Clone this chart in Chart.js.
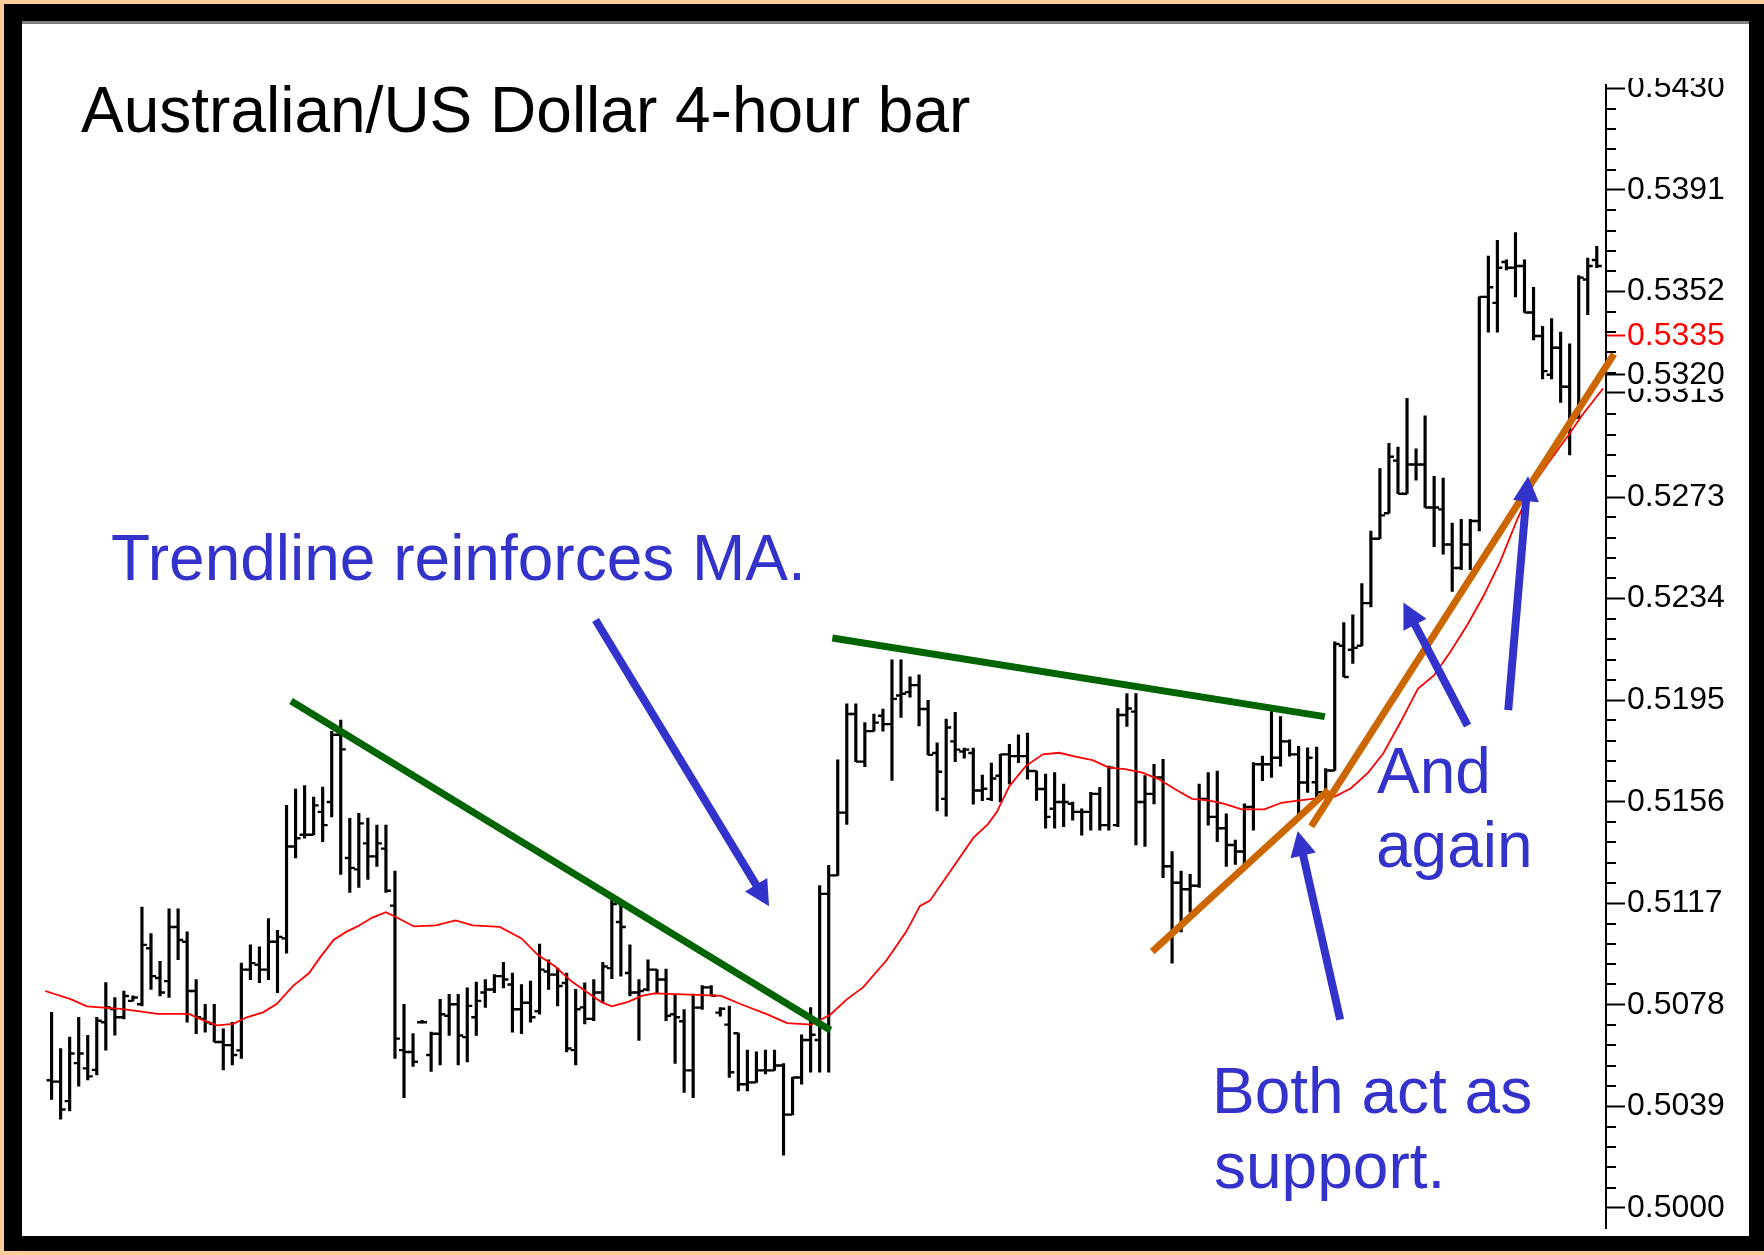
<!DOCTYPE html>
<html>
<head>
<meta charset="utf-8">
<script src="https://cdn.jsdelivr.net/npm/chart.js"></script>
<style>
  html, body { margin: 0; padding: 0; }
  body { width: 1764px; height: 1255px; background: #ffcc99; position: relative; overflow: hidden; }
  .abs { position: absolute; }
  #frame { left: 4px; top: 4px; width: 1760px; height: 1247px; background: #000; }
  #rule { left: 22px; top: 21px; width: 1727px; height: 3px; background: #808080; }
  #paper { left: 22px; top: 24px; width: 1727px; height: 1212px; background: #fff; }
  #wrap { left: 22px; top: 78px; width: 1727px; height: 1158px; }
  .txt { position: absolute; font-family: "Liberation Sans", Arial, sans-serif; font-size: 64px; line-height: 64px; white-space: nowrap; z-index: 5; }
  .blue { color: #3333cc; }
</style>
</head>
<body>
<div id="frame" class="abs"></div>
<div id="rule" class="abs"></div>
<div id="paper" class="abs"></div>
<div id="wrap" class="abs"><canvas id="chart"></canvas></div>

<div class="txt" style="left:81px; top:78px; color:#000;">Australian/US Dollar 4-hour bar</div>
<div class="txt blue" style="left:111px; top:526px;">Trendline reinforces MA.</div>
<div class="txt blue" style="left:1377px; top:739px;">And</div>
<div class="txt blue" style="left:1376px; top:813px;">again</div>
<div class="txt blue" style="left:1212px; top:1059px;">Both act as</div>
<div class="txt blue" style="left:1214px; top:1134px;">support.</div>

<script>
// 4-hour AUD/USD bars, one entry per bar
const highs = [
  0.50751, 0.50612, 0.50656, 0.50732, 0.50663, 0.50732, 0.50865, 0.50808, 0.50833, 0.50814,
  0.51155, 0.51054, 0.50947, 0.51149, 0.51149, 0.51060, 0.50877, 0.50782, 0.50782, 0.50688,
  0.50713, 0.50940, 0.51010, 0.51003, 0.51111, 0.51066, 0.51546, 0.51609, 0.51622, 0.51578,
  0.51616, 0.51830, 0.51874, 0.51496, 0.51515, 0.51497, 0.51470, 0.51470, 0.51294, 0.50782,
  0.50669, 0.50720, 0.50675, 0.50801, 0.50820, 0.50820, 0.50845, 0.50867, 0.50877, 0.50896,
  0.50943, 0.50902, 0.50858, 0.50871, 0.51013, 0.50953, 0.50921, 0.50902, 0.50839, 0.50864,
  0.50877, 0.50943, 0.51186, 0.51167, 0.51010, 0.50877, 0.50953, 0.50915, 0.50917, 0.50820,
  0.50762, 0.50821, 0.50854, 0.50854, 0.50769, 0.50775, 0.50671, 0.50606, 0.50599, 0.50606,
  0.50606, 0.50554, 0.50501, 0.50665, 0.50769, 0.51238, 0.51316, 0.51721, 0.51936, 0.51936,
  0.51864, 0.51897, 0.51916, 0.52105, 0.52105, 0.52040, 0.52047, 0.51949, 0.51786, 0.51877,
  0.51903, 0.51766, 0.51766, 0.51662, 0.51708, 0.51742, 0.51780, 0.51817, 0.51824, 0.51678,
  0.51666, 0.51672, 0.51628, 0.51559, 0.51533, 0.51596, 0.51615, 0.51697, 0.51918, 0.51975,
  0.51975, 0.51660, 0.51704, 0.51723, 0.51369, 0.51294, 0.51281, 0.51628, 0.51672, 0.51678,
  0.51514, 0.51413, 0.51552, 0.51710, 0.51735, 0.51906, 0.51887, 0.51798, 0.51773, 0.51767,
  0.51770, 0.51687, 0.52174, 0.52248, 0.52278, 0.52398, 0.52600, 0.52840, 0.52937, 0.52922,
  0.53109, 0.52915, 0.53042, 0.52810, 0.52803, 0.52630, 0.52645, 0.52645, 0.53499, 0.53656,
  0.53716, 0.53641, 0.53746, 0.53641, 0.53536, 0.53386, 0.53416, 0.53364, 0.53319, 0.53581,
  0.53648, 0.53693
];
const lows = [
  0.50417, 0.50341, 0.50372, 0.50467, 0.50491, 0.50511, 0.50606, 0.50663, 0.50726, 0.50795,
  0.50776, 0.50839, 0.50814, 0.50808, 0.50953, 0.50713, 0.50669, 0.50675, 0.50637, 0.50530,
  0.50549, 0.50574, 0.50877, 0.50865, 0.50877, 0.50827, 0.50978, 0.51344, 0.51420, 0.51433,
  0.51407, 0.51502, 0.51281, 0.51212, 0.51231, 0.51262, 0.51312, 0.51212, 0.50574, 0.50423,
  0.50543, 0.50710, 0.50524, 0.50549, 0.50662, 0.50549, 0.50561, 0.50662, 0.50770, 0.50827,
  0.50845, 0.50675, 0.50669, 0.50713, 0.50744, 0.50839, 0.50776, 0.50599, 0.50549, 0.50707,
  0.50719, 0.50788, 0.50880, 0.50890, 0.50814, 0.50643, 0.50833, 0.50827, 0.50719, 0.50555,
  0.50443, 0.50423, 0.50762, 0.50815, 0.50736, 0.50501, 0.50449, 0.50449, 0.50482, 0.50515,
  0.50528, 0.50202, 0.50358, 0.50475, 0.50521, 0.50521, 0.50521, 0.51277, 0.51473, 0.51714,
  0.51695, 0.51831, 0.51831, 0.51642, 0.51884, 0.51962, 0.51851, 0.51740, 0.51525, 0.51505,
  0.51714, 0.51727, 0.51551, 0.51564, 0.51564, 0.51559, 0.51628, 0.51710, 0.51647, 0.51565,
  0.51458, 0.51458, 0.51464, 0.51489, 0.51432, 0.51451, 0.51451, 0.51451, 0.51464, 0.51849,
  0.51394, 0.51388, 0.51552, 0.51268, 0.50940, 0.51060, 0.51136, 0.51231, 0.51470, 0.51407,
  0.51312, 0.51319, 0.51319, 0.51451, 0.51641, 0.51653, 0.51697, 0.51735, 0.51508, 0.51596,
  0.51567, 0.51597, 0.51680, 0.52039, 0.52091, 0.52159, 0.52308, 0.52570, 0.52668, 0.52743,
  0.52743, 0.52795, 0.52690, 0.52540, 0.52511, 0.52368, 0.52451, 0.52451, 0.52600, 0.53364,
  0.53364, 0.53603, 0.53499, 0.53439, 0.53334, 0.53184, 0.53184, 0.53094, 0.52892, 0.53035,
  0.53431, 0.53611
];
const opens = [
  0.50490, 0.50485, 0.50410, 0.50556, 0.50536, 0.50530, 0.50713, 0.50764, 0.50732, 0.50795,
  0.50782, 0.50997, 0.50883, 0.50871, 0.51079, 0.51022, 0.50833, 0.50726, 0.50707, 0.50637,
  0.50625, 0.50605, 0.50915, 0.50934, 0.50915, 0.51022, 0.51035, 0.51388, 0.51433, 0.51433,
  0.51521, 0.51559, 0.51817, 0.51344, 0.51300, 0.51400, 0.51350, 0.51380, 0.51161, 0.50606,
  0.50599, 0.50713, 0.50587, 0.50669, 0.50738, 0.50782, 0.50656, 0.50732, 0.50827, 0.50839,
  0.50890, 0.50858, 0.50763, 0.50788, 0.50755, 0.50908, 0.50896, 0.50864, 0.50606, 0.50770,
  0.50726, 0.50827, 0.50921, 0.51098, 0.50902, 0.50827, 0.50839, 0.50915, 0.50877, 0.50744,
  0.50717, 0.50528, 0.50769, 0.50847, 0.50750, 0.50704, 0.50671, 0.50475, 0.50482, 0.50528,
  0.50528, 0.50547, 0.50358, 0.50501, 0.50645, 0.50645, 0.51206, 0.51277, 0.51518, 0.51897,
  0.51714, 0.51831, 0.51890, 0.51858, 0.51968, 0.51981, 0.52008, 0.51916, 0.51747, 0.51571,
  0.51792, 0.51753, 0.51747, 0.51603, 0.51571, 0.51660, 0.51742, 0.51735, 0.51735, 0.51678,
  0.51609, 0.51533, 0.51559, 0.51552, 0.51521, 0.51521, 0.51590, 0.51470, 0.51470, 0.51893,
  0.51906, 0.51559, 0.51590, 0.51653, 0.51312, 0.51249, 0.51224, 0.51237, 0.51571, 0.51502,
  0.51458, 0.51394, 0.51369, 0.51540, 0.51704, 0.51704, 0.51729, 0.51792, 0.51742, 0.51634,
  0.51635, 0.51597, 0.51680, 0.52159, 0.52144, 0.52159, 0.52323, 0.52570, 0.52668, 0.52870,
  0.52743, 0.52855, 0.52855, 0.52690, 0.52683, 0.52548, 0.52458, 0.52548, 0.52638, 0.53499,
  0.53476, 0.53633, 0.53611, 0.53618, 0.53439, 0.53349, 0.53200, 0.53304, 0.53154, 0.53035,
  0.53566, 0.53641
];
const closes = [
  0.50485, 0.50378, 0.50593, 0.50593, 0.50505, 0.50719, 0.50770, 0.50732, 0.50814, 0.50808,
  0.51010, 0.50890, 0.50827, 0.51079, 0.51029, 0.50833, 0.50732, 0.50713, 0.50637, 0.50625,
  0.50587, 0.50915, 0.50940, 0.50915, 0.51022, 0.51041, 0.51388, 0.51420, 0.51433, 0.51546,
  0.51470, 0.51817, 0.51761, 0.51306, 0.51477, 0.51350, 0.51400, 0.51218, 0.50650, 0.50599,
  0.50561, 0.50713, 0.50669, 0.50744, 0.50782, 0.50662, 0.50776, 0.50795, 0.50839, 0.50890,
  0.50877, 0.50763, 0.50788, 0.50732, 0.50915, 0.50896, 0.50852, 0.50612, 0.50763, 0.50726,
  0.50827, 0.50927, 0.51167, 0.51079, 0.50827, 0.50833, 0.50915, 0.50877, 0.50738, 0.50732,
  0.50528, 0.50769, 0.50847, 0.50815, 0.50765, 0.50521, 0.50475, 0.50482, 0.50528, 0.50528,
  0.50547, 0.50358, 0.50501, 0.50645, 0.50665, 0.51206, 0.51277, 0.51518, 0.51897, 0.51714,
  0.51831, 0.51864, 0.51858, 0.51955, 0.51975, 0.52008, 0.51916, 0.51740, 0.51675, 0.51845,
  0.51760, 0.51760, 0.51603, 0.51610, 0.51649, 0.51742, 0.51735, 0.51735, 0.51678, 0.51609,
  0.51502, 0.51559, 0.51559, 0.51521, 0.51521, 0.51590, 0.51470, 0.51691, 0.51893, 0.51918,
  0.51559, 0.51590, 0.51653, 0.51312, 0.51249, 0.51224, 0.51237, 0.51571, 0.51502, 0.51458,
  0.51394, 0.51369, 0.51540, 0.51704, 0.51704, 0.51729, 0.51792, 0.51742, 0.51634, 0.51729,
  0.51597, 0.51680, 0.52166, 0.52039, 0.52151, 0.52323, 0.52570, 0.52660, 0.52885, 0.52743,
  0.52855, 0.52855, 0.52690, 0.52690, 0.52548, 0.52458, 0.52548, 0.52638, 0.53499, 0.53536,
  0.53611, 0.53611, 0.53618, 0.53439, 0.53349, 0.53214, 0.53304, 0.53154, 0.53035, 0.53573,
  0.53618, 0.53618
];

// moving average (bar position, value)
const maIndex = [
  -0.7, 2.1, 3.9, 7.6, 9.4, 11.7, 15.2, 16.4, 18.3, 20.1,
  21.6, 23.4, 24.9, 26.7, 28.5, 29.8, 31.2, 32.6, 33.9, 35.5,
  37, 38.1, 40.1, 42.5, 44.7, 46.6, 49.6, 52, 53.8, 55.7,
  57.5, 59.3, 60.9, 62, 63.8, 65.3, 66.7, 69, 71.5, 74.1,
  76.3, 79.2, 81.4, 84.1, 86.2, 88, 89.8, 92.4, 94.6, 96.1,
  97.2, 99.4, 102, 103.6, 104.6, 106, 107.8, 109.7, 111.5, 113.3,
  115.2, 117, 118.8, 120.7, 122.5, 124.3, 126.2, 128, 129.8, 131.7,
  134.2, 136.1, 138.3, 140.3, 142, 143.8, 145.7, 147.4, 149.3, 151.2,
  153, 154.8, 156.7, 158.5, 160.3, 162.2, 164, 165.8, 167.7, 169.5,
  171.7
];
const maValues = [
  0.50833, 0.50802, 0.50774, 0.50764, 0.50757, 0.50745, 0.50745, 0.50726, 0.50701, 0.50707,
  0.50732, 0.50751, 0.50783, 0.50852, 0.50902, 0.50966, 0.51029, 0.51060, 0.51082, 0.51115,
  0.51136, 0.51117, 0.51081, 0.51085, 0.51104, 0.51085, 0.51079, 0.51035, 0.50972, 0.50928,
  0.50871, 0.50827, 0.50789, 0.50774, 0.50791, 0.50814, 0.50824, 0.50821, 0.50818, 0.50814,
  0.50782, 0.50743, 0.50710, 0.50704, 0.50743, 0.50801, 0.50847, 0.50951, 0.51062, 0.51160,
  0.51180, 0.51290, 0.51421, 0.51473, 0.51520, 0.51620, 0.51697, 0.51742, 0.51748, 0.51733,
  0.51720, 0.51691, 0.51685, 0.51672, 0.51647, 0.51609, 0.51571, 0.51565, 0.51552, 0.51531,
  0.51531, 0.51556, 0.51566, 0.51574, 0.51580, 0.51612, 0.51672, 0.51747, 0.51867, 0.51994,
  0.52046, 0.52136, 0.52241, 0.52353, 0.52481, 0.52645, 0.52780, 0.52870, 0.52960, 0.53050,
  0.53147
];

// price axis labels, plus the two marker labels on the right edge
const yTicks = [0.5000, 0.5039, 0.5078, 0.5117, 0.5156, 0.5195, 0.5234, 0.5273, 0.5313, 0.5352, 0.5391, 0.5430];
const maMarker = 0.5335;
const lastMarker = 0.5320;

// drawn trendlines: [barFrom, priceFrom, barTo, priceTo]
const greenLines = [
  [26.5, 0.51947, 86.2, 0.50682],
  [86.4, 0.52189, 140.9, 0.51887]
];
const orangeLines = [
  [121.8, 0.50984, 141.3, 0.51605],
  [139.4, 0.51465, 172.9, 0.53279]
];
// arrows: [tailBar, tailPrice, tipBar, tipPrice]
const arrows = [
  [60.2, 0.52258, 79.4, 0.51159],
  [142.6, 0.50723, 137.9, 0.51448],
  [156.7, 0.51852, 149.6, 0.52325],
  [161.2, 0.51912, 163.4, 0.52810]
];

const segs = (list, color) => list.map(s => ({
  type: 'line',
  data: [{x: s[0], y: s[1]}, {x: s[2], y: s[3]}],
  borderColor: color, borderWidth: 7, borderCapStyle: 'butt',
  pointRadius: 0, clip: false, order: 1
}));

const overlay = {
  id: 'overlay',
  afterDatasetsDraw(chart) {
    const {ctx, chartArea, scales} = chart;
    const x = scales.x, y = scales.y;
    ctx.save();
    // short ticks between labels
    ctx.strokeStyle = '#000';
    ctx.lineWidth = 2;
    for (let k = 0; k < yTicks.length - 1; k++) {
      for (let j = 1; j < 5; j++) {
        const v = yTicks[k] + (yTicks[k + 1] - yTicks[k]) * j / 5;
        const py = Math.round(y.getPixelForValue(v));
        ctx.beginPath();
        ctx.moveTo(chartArea.right, py);
        ctx.lineTo(chartArea.right + 10, py);
        ctx.stroke();
      }
    }
    // blue arrows
    ctx.strokeStyle = '#3333cc';
    ctx.fillStyle = '#3333cc';
    ctx.lineWidth = 8;
    ctx.lineCap = 'butt';
    arrows.forEach(a => {
      const x1 = x.getPixelForValue(a[0]), y1 = y.getPixelForValue(a[1]);
      const x2 = x.getPixelForValue(a[2]), y2 = y.getPixelForValue(a[3]);
      const ang = Math.atan2(y2 - y1, x2 - x1);
      const c = Math.cos(ang), s = Math.sin(ang);
      const bx = x2 - 25 * c, by = y2 - 25 * s;
      ctx.beginPath();
      ctx.moveTo(x1, y1);
      ctx.lineTo(bx + c, by + s);
      ctx.stroke();
      ctx.beginPath();
      ctx.moveTo(x2, y2);
      ctx.lineTo(bx + 13 * s, by - 13 * c);
      ctx.lineTo(bx - 13 * s, by + 13 * c);
      ctx.closePath();
      ctx.fill();
    });
    ctx.restore();
  }
};

new Chart(document.getElementById('chart'), {
  type: 'bar',
  data: {
    datasets: [
      ...segs(greenLines, '#006400'),
      ...segs(orangeLines, '#cc6600'),
      {
        type: 'line',
        data: maIndex.map((v, i) => ({x: v, y: maValues[i]})),
        borderColor: '#ff0000', borderWidth: 1.8, pointRadius: 0, tension: 0, order: 5
      },
      {
        type: 'scatter',
        data: opens.map((v, i) => ({x: i, y: v})),
        pointStyle: 'dash', pointRotation: 180, pointRadius: 5,
        pointBorderWidth: 2.4, pointBorderColor: '#000', borderColor: '#000', order: 8
      },
      {
        type: 'scatter',
        data: closes.map((v, i) => ({x: i, y: v})),
        pointStyle: 'dash', pointRotation: 0, pointRadius: 5,
        pointBorderWidth: 2.4, pointBorderColor: '#000', borderColor: '#000', order: 8
      },
      {
        type: 'bar',
        data: highs.map((h, i) => ({x: i, y: [lows[i], h]})),
        backgroundColor: '#000', borderWidth: 0, barThickness: 2.5, grouped: false, order: 10
      }
    ]
  },
  options: {
    responsive: true,
    maintainAspectRatio: false,
    devicePixelRatio: 1,
    animation: false,
    events: [],
    layout: { padding: 0 },
    plugins: { legend: { display: false }, tooltip: { enabled: false } },
    scales: {
      x: { type: 'linear', min: -2.456, max: 172.02, display: false, offset: false },
      y: {
        type: 'linear', position: 'right', min: 0.499204, max: 0.543114,
        border: { display: true, color: '#000', width: 2 },
        grid: {
          drawOnChartArea: false, drawTicks: true, tickLength: 19, tickWidth: 2,
          tickColor: c => (c.tick && c.tick.value === maMarker) ? '#ff0000' : '#000'
        },
        ticks: {
          autoSkip: false, padding: 2,
          font: { family: '"Liberation Sans", Arial, sans-serif', size: 32, lineHeight: 0.8 },
          color: c => (c.tick && c.tick.value === maMarker) ? '#ff0000' : '#000',
          showLabelBackdrop: true, backdropColor: '#ffffff',
          backdropPadding: { top: 1, bottom: 1, left: 0, right: 0 },
          callback: v => Number(v).toFixed(4)
        },
        afterBuildTicks: s => {
          s.ticks = yTicks.concat([maMarker, lastMarker]).map(v => ({ value: v }));
        },
        afterFit: s => {
          s.width = 143;
          s.paddingTop = 0;
          s.paddingBottom = 0;
        }
      }
    }
  },
  plugins: [overlay]
});
</script>
</body>
</html>
